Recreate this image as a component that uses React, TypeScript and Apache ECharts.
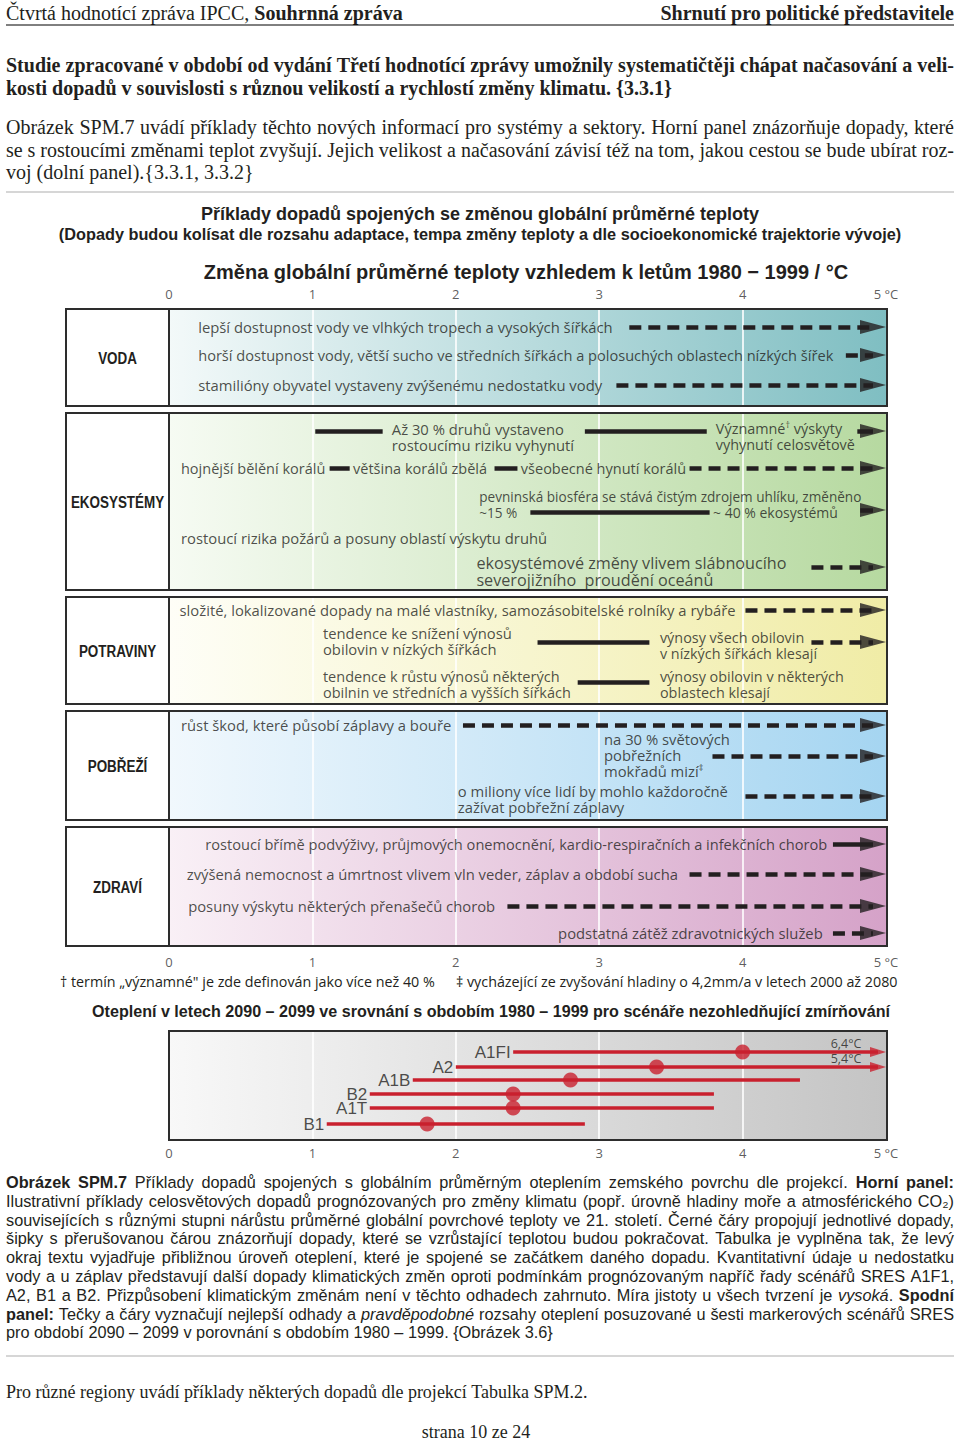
import React, { useEffect, useRef } from 'react';
import * as echarts from 'echarts';

type Seg = { t: string; f?: 'b' | 'i' };
type Impact = { lane: number; t: number; text: string; size?: number };
type Link = { lane: number; from: number; to: number; dashed?: boolean; arrow?: boolean };

// ---------------- data ----------------
const tickValues = [0, 1, 2, 3, 4, 5];
const tickLabels = ['0', '1', '2', '3', '4', '5 °C'];
const sectorNames = ['VODA', 'EKOSYSTÉMY', 'POTRAVINY', 'POBŘEŽÍ', 'ZDRAVÍ'];

const waterImpacts: Impact[] = [
  { lane: 0, t: 0.2, text: 'lepší dostupnost vody ve vlhkých tropech a vysokých šířkách' },
  { lane: 1, t: 0.2, text: 'horší dostupnost vody, větší sucho ve středních šířkách a polosuchých oblastech nízkých šířek', size: 14.6 },
  { lane: 2, t: 0.2, text: 'stamilióny obyvatel vystaveny zvýšenému nedostatku vody' },
];
const waterLinks: Link[] = [
  { lane: 0, from: 3.21, to: 5, dashed: true, arrow: true },
  { lane: 1, from: 4.72, to: 5, dashed: true, arrow: true },
  { lane: 2, from: 3.12, to: 5, dashed: true, arrow: true },
];

const ecoImpacts: Impact[] = [
  { lane: 1, t: 1.55, text: 'Až 30 % druhů vystaveno\nrostoucímu riziku vyhynutí' },
  { lane: 2, t: 3.81, text: 'Významné{s|†} výskyty\nvyhynutí celosvětově', size: 14.4 },
  { lane: 3, t: 0.08, text: 'hojnější bělění korálů', size: 14.5 },
  { lane: 3, t: 1.28, text: 'většina korálů zbělá', size: 14.5 },
  { lane: 3, t: 2.45, text: 'všeobecné hynutí korálů', size: 14.5 },
  { lane: 4, t: 2.16, text: 'pevninská biosféra se stává čistým zdrojem uhlíku, změněno\n~15 %', size: 13.6 },
  { lane: 5, t: 3.79, text: '~ 40 % ekosystémů', size: 14 },
  { lane: 7, t: 0.08, text: 'rostoucí rizika požárů a posuny oblastí výskytu druhů' },
  { lane: 8, t: 2.14, text: 'ekosystémové změny vlivem slábnoucího\nseverojižního  proudění oceánů', size: 16.2 },
];
const ecoLinks: Link[] = [
  { lane: 0, from: 1.02, to: 1.49 },
  { lane: 0, from: 2.9, to: 3.75 },
  { lane: 0, from: 4.8, to: 5, arrow: true },
  { lane: 3, from: 1.12, to: 1.26 },
  { lane: 3, from: 2.27, to: 2.43 },
  { lane: 3, from: 3.63, to: 5, dashed: true, arrow: true },
  { lane: 5, from: 2.52, to: 3.77 },
  { lane: 6, from: 4.82, to: 5, arrow: true },
  { lane: 9, from: 4.48, to: 5, dashed: true, arrow: true },
];

const foodImpacts: Impact[] = [
  { lane: 0, t: 0.07, text: 'složité, lokalizované dopady na malé vlastníky, samozásobitelské rolníky a rybáře' },
  { lane: 1, t: 1.07, text: 'tendence ke snížení výnosů\nobilovin v nízkých šířkách' },
  { lane: 2, t: 3.42, text: 'výnosy všech obilovin\nv nízkých šířkách klesají', size: 14.4 },
  { lane: 4, t: 1.07, text: 'tendence k růstu výnosů některých\nobilnin ve středních a vyšších šířkách', size: 14.5 },
  { lane: 4, t: 3.42, text: 'výnosy obilovin v některých\noblastech klesají', size: 14.4 },
];
const foodLinks: Link[] = [
  { lane: 0, from: 4.02, to: 5, dashed: true, arrow: true },
  { lane: 3, from: 2.57, to: 3.35 },
  { lane: 3, from: 4.48, to: 5, dashed: true, arrow: true },
  { lane: 5, from: 2.85, to: 3.35 },
];

const coastImpacts: Impact[] = [
  { lane: 0, t: 0.08, text: 'růst škod, které působí záplavy a bouře' },
  { lane: 1, t: 3.03, text: 'na 30 % světových\npobřežních\nmokřadů mizí{s|‡}' },
  { lane: 3, t: 2.01, text: 'o miliony více lidí by mohlo každoročně\nzažívat pobřežní záplavy' },
];
const coastLinks: Link[] = [
  { lane: 0, from: 2.05, to: 5, dashed: true, arrow: true },
  { lane: 2, from: 3.79, to: 5, dashed: true, arrow: true },
  { lane: 4, from: 4.02, to: 5, dashed: true, arrow: true },
];

const healthImpacts: Impact[] = [
  { lane: 0, t: 0.25, text: 'rostoucí břímě podvýživy, průjmových onemocnění, kardio-respiračních a infekčních chorob', size: 14.6 },
  { lane: 1, t: 0.12, text: 'zvýšená nemocnost a úmrtnost vlivem vln veder, záplav a období sucha' },
  { lane: 2, t: 0.13, text: 'posuny výskytu některých přenašečů chorob' },
  { lane: 3, t: 2.71, text: 'podstatná zátěž zdravotnických služeb' },
];
const healthLinks: Link[] = [
  { lane: 0, from: 4.63, to: 5, arrow: true },
  { lane: 1, from: 3.63, to: 5, dashed: true, arrow: true },
  { lane: 2, from: 2.36, to: 5, dashed: true, arrow: true },
  { lane: 3, from: 4.63, to: 5, dashed: true, arrow: true },
];

const sectorImpacts = [waterImpacts, ecoImpacts, foodImpacts, coastImpacts, healthImpacts];
const sectorLinks = [waterLinks, ecoLinks, foodLinks, coastLinks, healthLinks];

const scenarioNames = ['A1FI', 'A2', 'A1B', 'B2', 'A1T', 'B1'];
const scenarioBest = [4.0, 3.4, 2.8, 2.4, 2.4, 1.8];
const scenarioLow = [2.4, 2.0, 1.7, 1.4, 1.4, 1.1];
const scenarioHigh = [6.4, 5.4, 4.4, 3.8, 3.8, 2.9];

// ---------------- texts ----------------
const headerLeft: Seg[] = [{ t: 'Čtvrtá hodnotící zpráva IPCC, ' }, { t: 'Souhrnná zpráva', f: 'b' }];
const headerRight = 'Shrnutí pro politické představitele';
const introBold: string[] = [
  'Studie zpracované v období od vydání Třetí hodnotící zprávy umožnily systematičtěji chápat načasování a veli-',
  'kosti dopadů v souvislosti s různou velikostí a rychlostí změny klimatu. {3.3.1}',
];
const introPlain: string[] = [
  'Obrázek SPM.7 uvádí příklady těchto nových informací pro systémy a sektory. Horní panel znázorňuje dopady, které',
  'se s rostoucími změnami teplot zvyšují. Jejich velikost a načasování závisí též na tom, jakou cestou se bude ubírat roz-',
  'voj (dolní panel).{3.3.1, 3.3.2}',
];
const chartTitle = 'Příklady dopadů spojených se změnou globální průměrné teploty';
const chartSubtitle = '(Dopady budou kolísat dle rozsahu adaptace, tempa změny teploty a dle socioekonomické trajektorie vývoje)';
const axisTitle = 'Změna globální průměrné teploty vzhledem k letům 1980 − 1999 / °C';
const footnoteA = '† termín „významné" je zde definován jako více než 40 %';
const footnoteB = '‡ vycházející ze zvyšování hladiny o 4,2mm/a v letech 2000 až 2080';
const lowerTitle = 'Oteplení v letech 2090 – 2099 ve srovnání s obdobím 1980 – 1999 pro scénáře nezohledňující zmírňování';
const captionLines: Seg[][] = [
  [{ t: 'Obrázek SPM.7', f: 'b' }, { t: ' Příklady dopadů spojených s globálním průměrným oteplením zemského povrchu dle projekcí. ' }, { t: 'Horní panel:', f: 'b' }],
  [{ t: 'Ilustrativní příklady celosvětových dopadů prognózovaných pro změny klimatu (popř. úrovně hladiny moře a atmosférického CO₂)' }],
  [{ t: 'souvisejících s různými stupni nárůstu průměrné globální povrchové teploty ve 21. století. Černé čáry propojují jednotlivé dopady,' }],
  [{ t: 'šipky s přerušovanou čárou znázorňují dopady, které se vzrůstající teplotou budou pokračovat. Tabulka je vyplněna tak, že levý' }],
  [{ t: 'okraj textu vyjadřuje přibližnou úroveň oteplení, které je spojené se začátkem daného dopadu. Kvantitativní údaje u nedostatku' }],
  [{ t: 'vody a u záplav představují další dopady klimatických změn oproti podmínkám prognózovaným napříč řady scénářů SRES A1F1,' }],
  [{ t: 'A2, B1 a B2. Přizpůsobení klimatickým změnám není v těchto odhadech zahrnuto. Míra jistoty u všech tvrzení je ' }, { t: 'vysoká', f: 'i' }, { t: '. ' }, { t: 'Spodní', f: 'b' }],
  [{ t: 'panel:', f: 'b' }, { t: ' Tečky a čáry vyznačují nejlepší odhady a ' }, { t: 'pravděpodobné', f: 'i' }, { t: ' rozsahy oteplení posuzované u šesti markerových scénářů SRES' }],
  [{ t: 'pro období 2090 – 2099 v porovnání s obdobím 1980 – 1999. {Obrázek 3.6}' }],
];
const footerText = 'Pro různé regiony uvádí příklady některých dopadů dle projekcí Tabulka SPM.2.';
const pageText = 'strana 10 ze 24';

// ---------------- layout & style ----------------
const PAGE_W = 960;
const PAGE_H = 1443;
const X0 = 169;
const X5 = 886;
const PX = (X5 - X0) / 5;
const BOX_L = 66;
const BOX_R = 887;
const TEXT_L = 6;
const TEXT_R = 954;
const panels = [
  { top: 309, bottom: 406, lanes: [327, 355, 385], c0: '#f3f9f9', c1: '#7fbec2' },
  { top: 413, bottom: 590, lanes: [431, 437, 436, 468, 504, 512, 510, 538, 571, 567], c0: '#f6fbf3', c1: '#b6d9a0' },
  { top: 597, bottom: 704, lanes: [610, 641, 645, 642, 684, 682], c0: '#fefef7', c1: '#f0eca6' },
  { top: 711, bottom: 820, lanes: [725, 755, 756, 799, 796], c0: '#f1f8fd', c1: '#a5d5f1' },
  { top: 827, bottom: 946, lanes: [844, 874, 906, 933], c0: '#f9f0f6', c1: '#d5a2c8' },
];
const tickRowsY = [294, 962, 1153];
const scenarioPanel = { top: 1031, bottom: 1140, c0: '#f8f8f8', c1: '#c4c4c4' };
const scenarioRowY = [1052, 1067, 1080, 1094, 1108, 1124];

const INK = '#231f20';
const RED = '#c9202e';
const SERIF = "'Liberation Serif', 'Times New Roman', serif";
const ARIAL = "'Liberation Sans', Arial, sans-serif";
const MYRIAD = "'Open Sans', 'Noto Sans', sans-serif";
const ARROW_LEN = 26;
const RED_ARROW_LEN = 16;
const IMPACT_SIZE = 14.8;

let measureCtx: CanvasRenderingContext2D | null = null;
function textWidth(s: string, font: string) {
  if (!measureCtx) measureCtx = document.createElement('canvas').getContext('2d');
  measureCtx!.font = font;
  return measureCtx!.measureText(s).width;
}

function lineElements(segs: Seg[], x: number, y: number, width: number, justify: boolean, size: number, family: string, baseBold: boolean) {
  const fontOf = (f?: string) => `${f === 'i' ? 'italic ' : ''}${f === 'b' || baseBold ? 'bold ' : ''}${size}px ${family}`;
  const words: { t: string; font: string }[][] = [];
  let cur: { t: string; font: string }[] = [];
  segs.forEach((seg) => {
    const font = fontOf(seg.f);
    seg.t.split(' ').forEach((p, i) => {
      if (i > 0) {
        if (cur.length) words.push(cur);
        cur = [];
      }
      if (p) cur.push({ t: p, font });
    });
  });
  if (cur.length) words.push(cur);
  const ww = words.map((w) => w.reduce((a, p) => a + textWidth(p.t, p.font), 0));
  const total = ww.reduce((a, b) => a + b, 0);
  const gap = justify && words.length > 1 ? (width - total) / (words.length - 1) : textWidth(' ', fontOf());
  const els: any[] = [];
  let cx = x;
  words.forEach((w, i) => {
    let px = cx;
    w.forEach((p) => {
      els.push({ type: 'text', x: px, y, z: 20, silent: true, style: { text: p.t, font: p.font, fill: INK, align: 'left', verticalAlign: 'middle' } });
      px += textWidth(p.t, p.font);
    });
    cx += ww[i] + gap;
  });
  return els;
}

function txt(text: string, x: number, y: number, font: string, align = 'left', extra: any = {}) {
  return { type: 'text', x, y, z: 20, silent: true, ...extra, style: { text, font, fill: INK, align, verticalAlign: 'middle' } };
}

function buildOption() {
  const g: any[] = [];
  // header
  g.push(...lineElements(headerLeft, TEXT_L, 13, 0, false, 20, SERIF, false));
  g.push(txt(headerRight, TEXT_R, 13, `bold 20px ${SERIF}`, 'right'));
  g.push({ type: 'line', z: 20, silent: true, shape: { x1: TEXT_L, y1: 25, x2: TEXT_R, y2: 25 }, style: { stroke: '#000', lineWidth: 1 } });
  introBold.forEach((l, i) => g.push(...lineElements([{ t: l }], TEXT_L, 65 + i * 22.5, TEXT_R - TEXT_L, i < introBold.length - 1, 20, SERIF, true)));
  introPlain.forEach((l, i) => g.push(...lineElements([{ t: l }], TEXT_L, 127 + i * 22.5, TEXT_R - TEXT_L, i < introPlain.length - 1, 20, SERIF, false)));
  g.push({ type: 'line', z: 20, silent: true, shape: { x1: TEXT_L, y1: 192, x2: TEXT_R, y2: 192 }, style: { stroke: '#c8c8c8', lineWidth: 1.5 } });
  g.push({ type: 'line', z: 20, silent: true, shape: { x1: TEXT_L, y1: 1356, x2: TEXT_R, y2: 1356 }, style: { stroke: '#c8c8c8', lineWidth: 1.5 } });
  // titles
  g.push(txt(chartTitle, 480, 214, `bold 18px ${ARIAL}`, 'center'));
  g.push(txt(chartSubtitle, 480, 234, `bold 16.3px ${ARIAL}`, 'center'));
  g.push(txt(axisTitle, 526, 272, `bold 20px ${ARIAL}`, 'center'));
  // panels
  panels.forEach((p, i) => {
    const h = p.bottom - p.top;
    g.push({ type: 'rect', z: 0, silent: true, shape: { x: BOX_L, y: p.top, width: X0 - BOX_L, height: h }, style: { fill: '#ffffff' } });
    g.push({
      type: 'rect', z: 0, silent: true, shape: { x: X0, y: p.top, width: BOX_R - X0, height: h },
      style: { fill: new echarts.graphic.LinearGradient(0, 0, 1, 0, [{ offset: 0, color: p.c0 }, { offset: 1, color: p.c1 }]) },
    });
    g.push({ type: 'rect', z: 10, silent: true, shape: { x: BOX_L, y: p.top, width: BOX_R - BOX_L, height: h }, style: { fill: 'none', stroke: '#2d2d2d', lineWidth: 2 } });
    g.push({ type: 'line', z: 10, silent: true, shape: { x1: X0, y1: p.top, x2: X0, y2: p.bottom }, style: { stroke: '#2d2d2d', lineWidth: 2 } });
    g.push(txt(sectorNames[i], (BOX_L + X0) / 2, (p.top + p.bottom) / 2, `bold 17px ${ARIAL}`, 'center', { scaleX: 0.79 }));
  });
  // footnotes and lower title
  g.push(txt(footnoteA, 60, 981, `14.3px ${MYRIAD}`));
  g.push(txt(footnoteB, 456, 981, `14.3px ${MYRIAD}`));
  g.push(txt(lowerTitle, 491, 1011, `bold 16.1px ${ARIAL}`, 'center'));
  // scenario panel
  {
    const p = scenarioPanel;
    g.push({
      type: 'rect', z: 0, silent: true, shape: { x: X0, y: p.top, width: BOX_R - X0, height: p.bottom - p.top },
      style: { fill: new echarts.graphic.LinearGradient(0, 0, 1, 0, [{ offset: 0, color: p.c0 }, { offset: 1, color: p.c1 }]) },
    });
    g.push({ type: 'rect', z: 10, silent: true, shape: { x: X0, y: p.top, width: BOX_R - X0, height: p.bottom - p.top }, style: { fill: 'none', stroke: '#2d2d2d', lineWidth: 2 } });
  }
  // caption
  captionLines.forEach((l, i) => g.push(...lineElements(l, TEXT_L, 1182 + i * 18.8, TEXT_R - TEXT_L, i < captionLines.length - 1, 16.3, ARIAL, false)));
  g.push(...lineElements([{ t: footerText }], TEXT_L, 1392, 0, false, 18, SERIF, false));
  g.push(txt(pageText, 476, 1432, `18px ${SERIF}`, 'center'));

  // ---- series data ----
  const whiteLines: any[] = [];
  [...panels, scenarioPanel].forEach((p) => {
    tickValues.slice(1, 5).forEach((k) => whiteLines.push({ coords: [[k, p.top + 1], [k, p.bottom - 1]] }));
  });

  const impactLines: any[] = [];
  const impactArrows: any[] = [];
  const impactLabels: any[] = [];
  sectorLinks.forEach((links, si) => {
    links.forEach((l) => {
      const y = panels[si].lanes[l.lane];
      const end = l.arrow ? l.to - ARROW_LEN / 2 / PX : l.to;
      impactLines.push({ coords: [[l.from, y], [end, y]], lineStyle: { type: l.dashed ? [12, 7] : 'solid' } });
      if (l.arrow) impactArrows.push([l.to - ARROW_LEN / 2 / PX, y]);
    });
  });
  sectorImpacts.forEach((items, si) => {
    items.forEach((it) => {
      const item: any = { name: it.text, value: [it.t, panels[si].lanes[it.lane]] };
      if (it.size) item.label = { fontSize: it.size, lineHeight: it.size > 16 ? 17 : 16 };
      impactLabels.push(item);
    });
  });

  const tickData: any[] = [];
  tickRowsY.forEach((y) => tickValues.forEach((v, i) => tickData.push({ name: tickLabels[i], value: [v, y] })));

  const scenLines = scenarioNames.map((_, i) => {
    const y = scenarioRowY[i];
    const hi = scenarioHigh[i] > 5 ? 5 - RED_ARROW_LEN / 2 / PX : scenarioHigh[i];
    return { coords: [[scenarioLow[i], y], [hi, y]] };
  });
  const scenArrows = scenarioNames
    .map((_, i) => ({ i, v: scenarioHigh[i] }))
    .filter((d) => d.v > 5)
    .map((d) => ({ name: d.v.toFixed(1).replace('.', ',') + '°C', value: [5 - RED_ARROW_LEN / 2 / PX, scenarioRowY[d.i]] }));
  const scenDots = scenarioNames.map((_, i) => [scenarioBest[i], scenarioRowY[i]]);
  const scenLabels = scenarioNames.map((n, i) => ({ name: n, value: [scenarioLow[i], scenarioRowY[i]] }));

  return {
    animation: false,
    grid: { left: X0, top: 0, width: X5 - X0, height: PAGE_H, containLabel: false },
    xAxis: { type: 'value', min: 0, max: 5, show: false },
    yAxis: { type: 'value', min: 0, max: PAGE_H, inverse: true, show: false },
    graphic: { elements: g },
    series: [
      {
        type: 'lines', coordinateSystem: 'cartesian2d', z: 1, silent: true, symbol: 'none',
        lineStyle: { color: '#ffffff', width: 1.6, opacity: 1 }, data: whiteLines,
      },
      {
        type: 'lines', coordinateSystem: 'cartesian2d', z: 3, silent: true, symbol: 'none',
        lineStyle: { color: INK, width: 4.5, opacity: 1, cap: 'butt' }, data: impactLines,
      },
      {
        type: 'scatter', z: 4, silent: true, symbol: 'triangle', symbolSize: [14, ARROW_LEN], symbolRotate: -90,
        itemStyle: { color: INK }, data: impactArrows,
      },
      {
        type: 'scatter', z: 5, silent: true, symbolSize: 1, itemStyle: { color: 'rgba(0,0,0,0)' },
        label: {
          show: true, position: 'right', distance: 0, formatter: '{b}', color: INK, fontFamily: MYRIAD, fontSize: IMPACT_SIZE, lineHeight: 16,
          rich: { s: { fontSize: 9, verticalAlign: 'top', color: INK, fontFamily: MYRIAD } },
        },
        data: impactLabels,
      },
      {
        type: 'scatter', z: 5, silent: true, symbolSize: 1, itemStyle: { color: 'rgba(0,0,0,0)' },
        label: { show: true, position: 'inside', formatter: '{b}', color: '#333', fontFamily: MYRIAD, fontSize: 13 },
        data: tickData,
      },
      {
        type: 'lines', coordinateSystem: 'cartesian2d', z: 3, silent: true, symbol: 'none',
        lineStyle: { color: RED, width: 3.5, opacity: 1 }, data: scenLines,
      },
      {
        type: 'scatter', z: 4, silent: true, symbol: 'triangle', symbolSize: [10, RED_ARROW_LEN], symbolRotate: -90,
        itemStyle: { color: RED },
        label: { show: true, position: 'top', offset: [-32, 8], formatter: '{b}', color: INK, fontFamily: MYRIAD, fontSize: 12.5 },
        data: scenArrows,
      },
      {
        type: 'scatter', z: 5, silent: true, symbol: 'circle', symbolSize: 15, itemStyle: { color: RED }, data: scenDots,
      },
      {
        type: 'scatter', z: 5, silent: true, symbolSize: 1, itemStyle: { color: 'rgba(0,0,0,0)' },
        label: { show: true, position: 'left', distance: 2, formatter: '{b}', color: INK, fontFamily: ARIAL, fontSize: 17, lineHeight: 13 },
        data: scenLabels,
      },
    ],
  };
}

export default function App() {
  const ref = useRef<HTMLDivElement>(null);
  useEffect(() => {
    if (!ref.current) return;
    const chart = echarts.init(ref.current, undefined, { renderer: 'svg', width: PAGE_W, height: PAGE_H });
    chart.setOption(buildOption() as any);
    return () => chart.dispose();
  }, []);
  return <div ref={ref} style={{ position: 'absolute', left: 0, top: 0, width: PAGE_W, height: PAGE_H, background: '#fff' }} />;
}
